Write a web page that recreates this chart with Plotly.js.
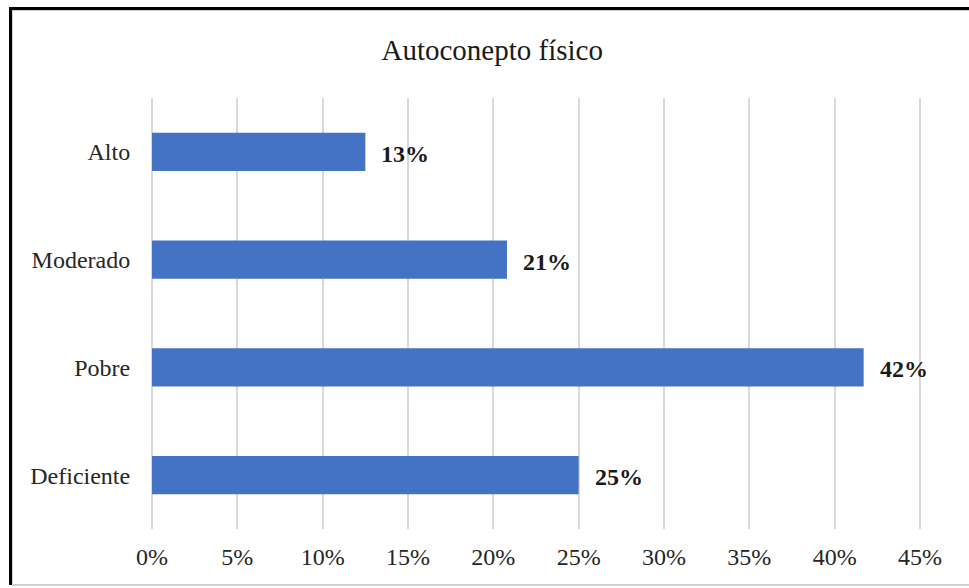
<!DOCTYPE html>
<html>
<head>
<meta charset="utf-8">
<script src="https://cdn.plot.ly/plotly-3.0.1.min.js"></script>
<style>
html,body{margin:0;padding:0;background:#fff;}
#wrap{position:relative;width:969px;height:588px;overflow:hidden;}
#chart{position:absolute;left:0;top:0;width:969px;height:588px;}
#frame{position:absolute;left:9px;top:7px;width:980px;height:578px;border-top:3px solid #000;border-left:3px solid #000;box-sizing:border-box;pointer-events:none;}
#inner{position:absolute;left:12px;top:10px;width:980px;height:576px;border-top:1px solid #d0d0d0;border-left:1px solid #d0d0d0;border-bottom:2px solid #d0d0d0;box-sizing:border-box;pointer-events:none;}
</style>
</head>
<body>
<div id="wrap">
<div id="chart"></div>
<div id="inner"></div>
<div id="frame"></div>
</div>
<script>
const categories = ["Alto", "Moderado", "Pobre", "Deficiente"];
const values = [12.5, 20.8, 41.7, 25.0];
const labels = ["13%", "21%", "42%", "25%"];
const xTicks = [0, 5, 10, 15, 20, 25, 30, 35, 40, 45];
const xTickLabels = ["0%", "5%", "10%", "15%", "20%", "25%", "30%", "35%", "40%", "45%"];
const titleText = "Autoconepto físico";

const font = "'Liberation Serif', 'Times New Roman', serif";

const trace = {
  type: "bar",
  orientation: "h",
  y: categories,
  x: values,
  marker: {color: "#4472C4"},
  hoverinfo: "skip"
};

const annotations = categories.map((c, i) => ({
  x: values[i], y: c, xref: "x", yref: "y",
  text: "<b>" + labels[i] + "</b>",
  showarrow: false, xanchor: "left", xshift: 14, yshift: -2,
  font: {family: font, size: 24, color: "#1a1a1a"}
}));

const layout = {
  width: 969, height: 588,
  margin: {l: 151, r: 48, t: 98, b: 59},
  paper_bgcolor: "rgba(0,0,0,0)",
  plot_bgcolor: "#fff",
  title: {text: titleText, x: 0.508, xanchor: "center", xref: "container", y: 0.915, yanchor: "middle",
          font: {family: font, size: 29, color: "#1a1a1a"}},
  bargap: 0.647,
  showlegend: false,
  xaxis: {
    range: [-0.06, 45.06], tickvals: xTicks, ticktext: xTickLabels,
    showgrid: true, gridcolor: "#d9d9d9", gridwidth: 2,
    zeroline: false, showline: false,
    ticks: "outside", ticklen: 6, tickcolor: "rgba(0,0,0,0)",
    tickfont: {family: font, size: 24, color: "#262626"}
  },
  yaxis: {
    type: "category", autorange: "reversed",
    showgrid: false, zeroline: false, showline: false,
    ticks: "outside", ticklen: 15, tickcolor: "rgba(0,0,0,0)",
    tickfont: {family: font, size: 24, color: "#262626"}
  },
  annotations: annotations
};

Plotly.newPlot("chart", [trace], layout, {displayModeBar: false, staticPlot: true});
</script>
</body>
</html>
